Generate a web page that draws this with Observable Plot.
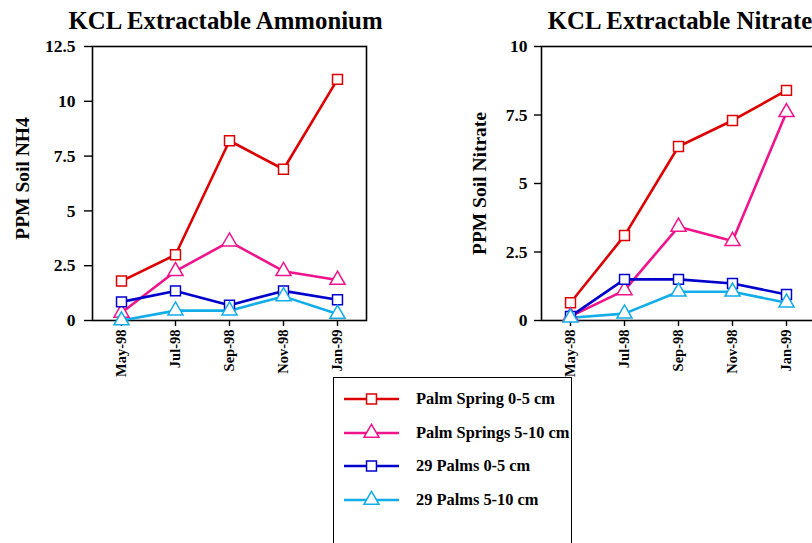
<!DOCTYPE html>
<html>
<head>
<meta charset="utf-8">
<script src="https://cdn.jsdelivr.net/npm/d3@7"></script>
<script src="https://cdn.jsdelivr.net/npm/@observablehq/plot@0.6"></script>
<style>
  html, body { margin: 0; padding: 0; background: #fff; }
  #wrap { position: relative; width: 812px; height: 543px; overflow: hidden; background: #fff; font-family: "Liberation Serif", "Times New Roman", serif; }
  #wrap svg text { font-weight: bold; }
  #wrap svg { max-width: none !important; }
  .chart { position: absolute; top: 0; width: 420px; }
  #legend { position: absolute; left: 333px; top: 377px; width: 239px; height: 200px; border: 1.5px solid #000; box-sizing: border-box; background: #fff; }
  .entry { position: absolute; left: 10px; height: 20px; display: flex; align-items: center; }
  .entry span { font: bold 16.4px "Liberation Serif", serif; margin-left: 16px; white-space: nowrap; }
</style>
</head>
<body>
<div id="wrap">
  <div id="left" class="chart" style="left:0px"></div>
  <div id="right" class="chart" style="left:440px"></div>
  <div id="legend"></div>
</div>
<script>
const months = ["May-98", "Jul-98", "Sep-98", "Nov-98", "Jan-99"];
const seriesNames = ["Palm Spring 0-5 cm", "Palm Springs 5-10 cm", "29 Palms 0-5 cm", "29 Palms 5-10 cm"];
const seriesColors = ["#dd0000", "#f0148c", "#0000cc", "#12ade8"];
const seriesSymbols = ["square", "triangle", "square", "triangle"];

// KCL Extractable Ammonium (PPM Soil NH4)
const nh4_palmSpring_0_5   = [1.8, 3.0, 8.2, 6.9, 11.0];
const nh4_palmSprings_5_10 = [0.35, 2.25, 3.6, 2.25, 1.85];
const nh4_29palms_0_5      = [0.85, 1.35, 0.7, 1.35, 0.95];
const nh4_29palms_5_10     = [0.0, 0.45, 0.45, 1.1, 0.3];

// KCL Extractable Nitrate (PPM Soil Nitrate)
const no3_palmSpring_0_5   = [0.65, 3.1, 6.35, 7.3, 8.4];
const no3_palmSprings_5_10 = [0.15, 1.1, 3.42, 2.9, 7.6];
const no3_29palms_0_5      = [0.15, 1.5, 1.5, 1.35, 0.95];
const no3_29palms_5_10     = [0.1, 0.25, 1.05, 1.05, 0.65];

const nh4Ticks = [0, 2.5, 5, 7.5, 10, 12.5];
const no3Ticks = [0, 2.5, 5, 7.5, 10];

function table(seriesValues) {
  const rows = [];
  seriesValues.forEach((vals, i) => {
    vals.forEach((v, j) => rows.push({series: seriesNames[i], month: months[j], value: v}));
  });
  return rows;
}

const nh4Data = table([nh4_palmSpring_0_5, nh4_palmSprings_5_10, nh4_29palms_0_5, nh4_29palms_5_10]);
const no3Data = table([no3_palmSpring_0_5, no3_palmSprings_5_10, no3_29palms_0_5, no3_29palms_5_10]);

function chart({data, width, marginLeft, marginRight, yMax, ticks, title, titleDx, ylabel, ylabelDx, ylabelDy, tickSize, tickPadding}) {
  const svg = Plot.plot({
    width, height: 380,
    marginLeft, marginRight, marginTop: 46, marginBottom: 60,
    style: {fontFamily: "Liberation Serif, serif", fontSize: "13px", color: "#000", background: "transparent", overflow: "visible", maxWidth: "none"},
    x: {type: "point", domain: months, padding: 0.5},
    y: {domain: [0, yMax]},
    color: {domain: seriesNames, range: seriesColors},
    symbol: {domain: seriesNames, range: seriesSymbols},
    marks: [
      Plot.frame({stroke: "#000", strokeWidth: 1.6}),
      Plot.axisY({ticks, tickFormat: d => String(d), tickSize, tickPadding, label: null, fontSize: 17.5, fontWeight: "bold", strokeWidth: 1.4}),
      Plot.axisX({tickRotate: -90, tickSize: 6, tickPadding: 3, label: null, fontSize: 14.5, fontWeight: "bold", strokeWidth: 1.4}),
      Plot.text([title], {frameAnchor: "top", lineAnchor: "middle", textAnchor: "middle", dy: -25, dx: titleDx, fontSize: 24.8, fontWeight: "bold"}),
      Plot.text([ylabel], {frameAnchor: "left", textAnchor: "middle", lineAnchor: "middle", rotate: -90, dx: ylabelDx, dy: ylabelDy, fontSize: 19.5, fontWeight: "bold"}),
      Plot.lineY(data, {x: "month", y: "value", z: "series", stroke: "series", strokeWidth: 2.6}),
      Plot.dot(data, {x: "month", y: "value", stroke: "series", symbol: "series", fill: "white", r: 5.6, strokeWidth: 1.5})
    ]
  });
  return svg;
}

document.getElementById("left").appendChild(chart({
  data: nh4Data, width: 400, marginLeft: 92, marginRight: 34, yMax: 12.5, ticks: nh4Ticks,
  title: "KCL Extractable Ammonium", titleDx: -4, ylabel: "PPM Soil NH4", ylabelDx: -70, ylabelDy: -5,
  tickSize: 8, tickPadding: 9
}));

document.getElementById("right").appendChild(chart({
  data: no3Data, width: 378, marginLeft: 101, marginRight: 4, yMax: 10, ticks: no3Ticks,
  title: "KCL Extractable Nitrate", titleDx: 2, ylabel: "PPM Soil Nitrate", ylabelDx: -62, ylabelDy: 0,
  tickSize: 7, tickPadding: 7
}));

// Legend
const legend = document.getElementById("legend");
seriesNames.forEach((name, i) => {
  const div = document.createElement("div");
  div.className = "entry";
  div.style.top = (11 + i * 33.7) + "px";
  const ns = "http://www.w3.org/2000/svg";
  const svg = document.createElementNS(ns, "svg");
  svg.setAttribute("width", 56); svg.setAttribute("height", 20);
  const line = document.createElementNS(ns, "line");
  line.setAttribute("x1", 0); line.setAttribute("x2", 55);
  line.setAttribute("y1", 10); line.setAttribute("y2", 10);
  line.setAttribute("stroke", seriesColors[i]); line.setAttribute("stroke-width", 2.6);
  svg.appendChild(line);
  const path = document.createElementNS(ns, "path");
  const sym = seriesSymbols[i] === "square" ? d3.symbolSquare : d3.symbolTriangle;
  path.setAttribute("d", d3.symbol(sym, Math.PI * 5.6 * 5.6)());
  path.setAttribute("transform", "translate(27.5,10)");
  path.setAttribute("fill", "white"); path.setAttribute("stroke", seriesColors[i]); path.setAttribute("stroke-width", 1.5);
  svg.appendChild(path);
  div.appendChild(svg);
  const span = document.createElement("span");
  span.textContent = name;
  div.appendChild(span);
  legend.appendChild(div);
});
</script>
</body>
</html>
